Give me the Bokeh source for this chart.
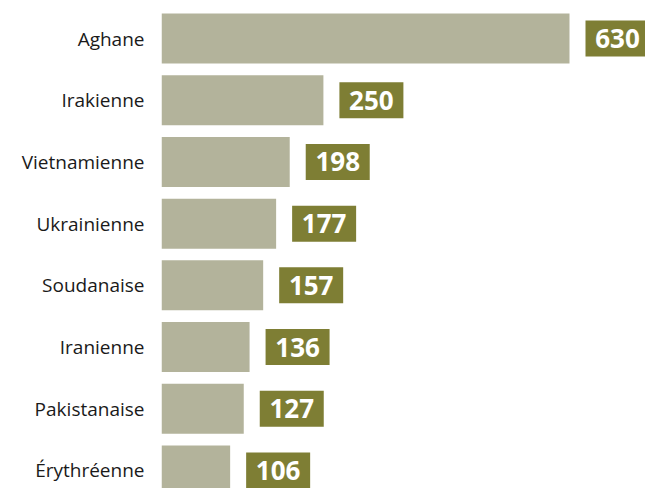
from bokeh.plotting import figure
from bokeh.models import Range1d, FixedTicker, ColumnDataSource
from bokeh.core.properties import value
from bokeh.embed import file_html
from bokeh.resources import INLINE

nationalities = ["Aghane", "Irakienne", "Vietnamienne", "Ukrainienne",
                 "Soudanaise", "Iranienne", "Pakistanaise", "Érythréenne"]
counts = [630, 250, 198, 177, 157, 136, 127, 106]

# layout helpers (pixel-based)
px_per_unit = 408 / 630
frame_left = 161
fig_w, fig_h = 645, 488
frame_w = fig_w - frame_left
gap = 16 / px_per_unit
box_w = 64 / px_per_unit
step = 61.7

idx = list(range(len(nationalities)))
src = ColumnDataSource(dict(
    y=idx,
    v=counts,
    box_l=[c + gap for c in counts],
    box_r=[c + gap + box_w for c in counts],
    box_c=[c + gap + box_w / 2 for c in counts],
    lab=[str(c) for c in counts],
))

p = figure(width=fig_w, height=fig_h, output_backend="svg", toolbar_location=None,
           x_range=Range1d(0, frame_w / px_per_unit),
           y_range=Range1d(7 + 18 / step, -38 / step),
           min_border_left=frame_left, min_border_right=0, min_border_top=0,
           min_border_bottom=0)

p.hbar(y="y", left=0, right="v", height=50 / step, source=src,
       color="#b3b39b", line_color=None)
p.hbar(y="y", left="box_l", right="box_r", height=36 / step, source=src,
       color="#7e7e34", line_color=None)
p.text(x="box_c", y="y", text="lab", source=src, text_color="white",
       text_font=value("Open Sans"), text_font_style="bold",
       text_font_size="26px", text_align="center", text_baseline="middle")

p.xaxis.visible = False
p.yaxis.ticker = FixedTicker(ticks=idx)
p.yaxis.major_label_overrides = {i: n for i, n in enumerate(nationalities)}
p.yaxis.axis_line_color = None
p.yaxis.major_tick_line_color = None
p.yaxis.minor_tick_line_color = None
p.yaxis.major_tick_out = 0
p.yaxis.major_tick_in = 0
p.yaxis.major_label_standoff = 17
p.yaxis.major_label_text_font = "Open Sans"
p.yaxis.major_label_text_font_size = "19px"
p.yaxis.major_label_text_color = "#1a1a1a"
p.xgrid.visible = False
p.ygrid.visible = False
p.outline_line_color = None

open("out.html", "w").write(file_html(p, INLINE))
